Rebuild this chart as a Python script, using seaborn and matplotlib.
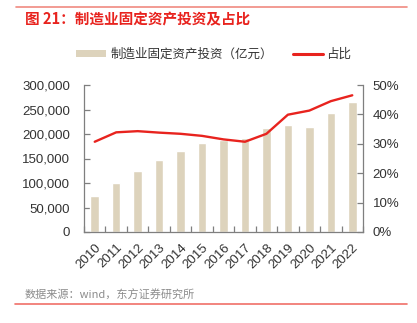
import matplotlib
matplotlib.use("Agg")
import matplotlib.pyplot as plt
import seaborn as sns
import pandas as pd
import numpy as np
from matplotlib.lines import Line2D
from matplotlib.patches import Patch
from matplotlib.ticker import FuncFormatter, MultipleLocator

years = ["2010", "2011", "2012", "2013", "2014", "2015", "2016",
         "2017", "2018", "2019", "2020", "2021", "2022"]
investment = [74000, 101000, 125000, 147500, 166000, 181000, 187800,
              192600, 212400, 219200, 213800, 242500, 265000]
share = [30.7, 33.9, 34.3, 33.8, 33.4, 32.7, 31.5, 30.7, 33.4, 39.9, 41.3, 44.5, 46.5]

bar_label = "制造业固定资产投资（亿元）"
line_label = "占比"
title = "图 21：制造业固定资产投资及占比"
source = "数据来源：wind，东方证券研究所"

df = pd.DataFrame({"year": years, "inv": investment, "share": share})

sns.set_theme(style="white")
plt.rcParams['font.family'] = ['Liberation Sans', 'Noto Sans CJK SC', 'DejaVu Sans']
cjk = ['Noto Sans CJK SC', 'DejaVu Sans']

bar_color = "#DDD3BC"
line_color = "#E8231E"
txt = "#333333"
spine_c = "#7f7f7f"

fig = plt.figure(figsize=(4.17, 3.23), dpi=100)
ax = fig.add_axes([84/417, 1-232/323, (363-84)/417, (232-85)/323])

sns.barplot(data=df, x="year", y="inv", color=bar_color, width=0.4,
            saturation=1, ax=ax)
ax.set_xlim(-0.5, len(years)-0.5)
ax.set_ylim(0, 300000)
ax.yaxis.set_major_locator(MultipleLocator(50000))
ax.yaxis.set_major_formatter(FuncFormatter(lambda v, p: f"{int(v):,}"))
ax.set_xlabel("")
ax.set_ylabel("")

ax2 = ax.twinx()
sns.lineplot(x=np.arange(len(years)), y=df["share"], color=line_color,
             linewidth=1.7, ax=ax2)
ax2.set_ylim(0, 50)
ax2.yaxis.set_major_locator(MultipleLocator(10))
ax2.yaxis.set_major_formatter(FuncFormatter(lambda v, p: f"{int(v)}%"))
ax2.set_ylabel("")
ax2.set_xlim(-0.5, len(years)-0.5)

for a in (ax, ax2):
    for s in a.spines.values():
        s.set_color(spine_c)
        s.set_linewidth(0.9)
    a.spines['top'].set_visible(False)

ax.spines['right'].set_visible(False)
ax2.spines['left'].set_visible(False)
ax2.spines['bottom'].set_visible(False)

ax.tick_params(axis='y', direction='in', length=4, width=0.9, color=spine_c,
               labelsize=9.5, labelcolor=txt, pad=10, left=True)
ax2.tick_params(axis='y', direction='in', length=4, width=0.9, color=spine_c,
                labelsize=9.5, labelcolor=txt, pad=7, right=True)

ax.set_xticks(range(len(years)))
ax.set_xticklabels(years, rotation=45, ha='right', rotation_mode='anchor')
ax.tick_params(axis='x', which='major', length=0, labelsize=9.5,
               labelcolor=txt, pad=7)
ax.set_xticks(np.arange(len(years)+1) - 0.5, minor=True)
ax.tick_params(axis='x', which='minor', direction='in', length=4, width=0.9,
               color=spine_c, bottom=True)

handles = [Patch(facecolor=bar_color, edgecolor='none', label=bar_label),
           Line2D([0], [0], color=line_color, linewidth=2.2, label=line_label)]
fig.legend(handles=handles, loc='center', bbox_to_anchor=(0.513, 1-54/323),
           ncol=2, frameon=False, prop={'family': cjk, 'size': 9},
           handlelength=2.4, handleheight=0.5, handletextpad=0.3,
           columnspacing=1.6, labelcolor=txt)

fig.text(25/417, 1-19/323, title, color="#E8231E", fontsize=10.5,
         fontweight='bold', family=cjk, va='center', ha='left')
fig.text(25/417, 1-295/323, source, color="#8c8c8c", fontsize=8,
         family=cjk, va='center', ha='left')

fig.add_artist(Line2D([16/417, 407/417], [1-7/323, 1-7/323],
                      transform=fig.transFigure, color="#F08A80", linewidth=1.2))
fig.add_artist(Line2D([15/417, 407/417], [1-304/323, 1-304/323],
                      transform=fig.transFigure, color="#F07068", linewidth=1.2))

fig.savefig("out.png", dpi=100)
